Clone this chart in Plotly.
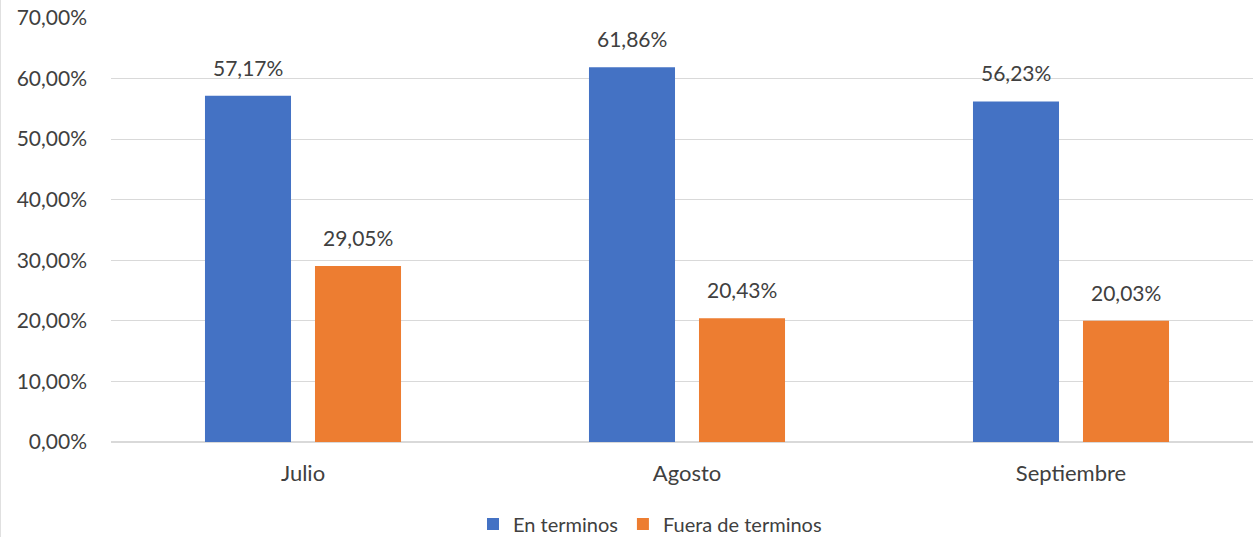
import plotly.graph_objects as go

categories = ["Julio", "Agosto", "Septiembre"]
en_terminos = [57.17, 61.86, 56.23]
fuera_terminos = [29.05, 20.43, 20.03]
series_names = ["En terminos", "Fuera de terminos"]
colors = ["#4472C4", "#ED7D31"]
tick_vals = [0, 10, 20, 30, 40, 50, 60, 70]

W, H = 1253, 537
ML, MR, MT, MB = 111, 0, 18, 95
FONT = "Lato"
TXT = "#404040"

def fmt(v):
    return f"{v:.2f}".replace(".", ",") + "%"

fig = go.Figure()
for name, vals, col in zip(series_names, [en_terminos, fuera_terminos], colors):
    fig.add_trace(go.Bar(x=categories, y=vals, name=name, marker=dict(color=col, line=dict(width=0))))

annos = []
for vals, shift in [(en_terminos, -55), (fuera_terminos, 55)]:
    for c, v in zip(categories, vals):
        annos.append(dict(x=c, y=v, text=fmt(v), showarrow=False, xshift=shift, yshift=14,
                          yanchor="bottom", font=dict(family=FONT, size=21, color=TXT)))

plot_w = W - ML - MR
plot_h = H - MT - MB
unit = 384.0
xmax = -0.5 + plot_w / unit

fig.update_layout(
    width=W, height=H, margin=dict(l=ML, r=MR, t=MT, b=MB, autoexpand=False),
    paper_bgcolor="white", plot_bgcolor="white",
    barmode="group", bargap=0.427, bargroupgap=0.218,
    font=dict(family=FONT, size=21, color=TXT),
    showlegend=True,
    legend=dict(orientation="h", x=(650 - ML) / plot_w, xanchor="center",
                y=-(524 - (H - MB)) / plot_h, yanchor="middle", font=dict(family=FONT, size=20, color=TXT),
                traceorder="normal"),
    annotations=annos,
    xaxis=dict(type="category", range=[-0.5, xmax], showgrid=False, showline=False, zeroline=False,
               ticks="", tickfont=dict(family=FONT, size=22, color=TXT), ticklabelstandoff=16),
    yaxis=dict(range=[0, 70], tickvals=tick_vals, ticktext=[fmt(t) for t in tick_vals],
               showgrid=True, gridcolor="#D9D9D9", gridwidth=1.3, zeroline=True, zerolinecolor="#D9D9D9",
               zerolinewidth=1.5, showline=False, ticks="", ticklabelstandoff=23,
               tickfont=dict(family=FONT, size=21, color=TXT)),
    shapes=[dict(type="line", xref="paper", yref="paper", x0=-ML / plot_w + 0.5 / plot_w, x1=-ML / plot_w + 0.5 / plot_w,
                 y0=-MB / plot_h, y1=1 + MT / plot_h, line=dict(color="#E0E0E0", width=1))],
)

fig.write_html("out.html")
